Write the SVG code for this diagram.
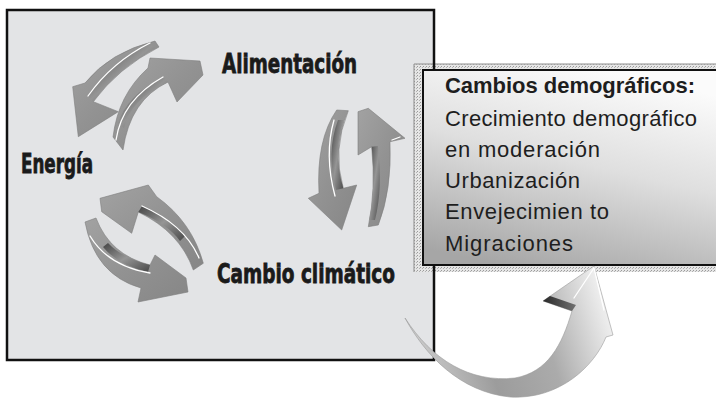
<svg xmlns="http://www.w3.org/2000/svg" width="716" height="402" viewBox="0 0 716 402">
<defs>
<style>
.lbl{font-family:"Liberation Sans Narrow","DejaVu Sans Condensed","Liberation Sans",sans-serif;font-weight:bold;font-size:27px;fill:#1a1a1a;stroke:#1a1a1a;stroke-width:0.8}
.txt{font-family:"Liberation Sans","Arial",sans-serif;font-size:22px;fill:#1e1e1e}
.bold{font-weight:bold}
.arrow{fill:url(#arrowGrad);stroke:#7e7e7e;stroke-width:0.6;stroke-linejoin:round}
.face{fill:url(#faceGrad)}
.hl{fill:none;stroke:#ffffff;stroke-width:1.3;stroke-linecap:round}
</style>
<linearGradient id="arrowGrad" x1="0" y1="0" x2="1" y2="1">
<stop offset="0" stop-color="#a2a2a2"/>
<stop offset="0.5" stop-color="#929292"/>
<stop offset="1" stop-color="#868686"/>
</linearGradient>
<linearGradient id="faceGrad" x1="0" y1="0" x2="1" y2="1">
<stop offset="0" stop-color="#444"/>
<stop offset="0.5" stop-color="#959595"/>
<stop offset="1" stop-color="#484848"/>
</linearGradient>
<linearGradient id="boxGrad" x1="0.6" y1="0" x2="0.25" y2="1">
<stop offset="0" stop-color="#fbfbfb"/>
<stop offset="0.45" stop-color="#dfdfdf"/>
<stop offset="1" stop-color="#a6a6a6"/>
</linearGradient>
<linearGradient id="bigGrad" gradientUnits="userSpaceOnUse" x1="405" y1="330" x2="600" y2="270">
<stop offset="0" stop-color="#cfcfcf"/>
<stop offset="0.35" stop-color="#9c9c9c"/>
<stop offset="0.65" stop-color="#ababab"/>
<stop offset="0.88" stop-color="#dcdcdc"/>
<stop offset="1" stop-color="#f4f4f4"/>
</linearGradient>
<linearGradient id="darkFace" x1="0" y1="0" x2="1" y2="0">
<stop offset="0" stop-color="#2a2a2a"/>
<stop offset="1" stop-color="#707070"/>
</linearGradient>
<pattern id="hatch" width="3" height="3" patternUnits="userSpaceOnUse">
<rect width="3" height="3" fill="#e6e6e6"/>
<rect width="1" height="1" fill="#9a9a9a"/>
<rect x="2" y="1" width="1" height="1" fill="#b2b2b2"/>
</pattern>
</defs>

<g id="main-panel">
<rect x="7" y="10" width="427" height="350" fill="#e3e4e6"/>
</g>

<g id="callout-shadow">
<rect x="414" y="64" width="310" height="208" fill="url(#hatch)"/>
<path d="M414,272 V64 H716" fill="none" stroke="#8c8c8c" stroke-width="1"/>
</g>

<g id="main-panel-border">
<rect x="7" y="10" width="427" height="350" fill="none" stroke="#111" stroke-width="2.5"/>
</g>

<g id="callout">
<rect x="423" y="70" width="300" height="195" fill="url(#boxGrad)" stroke="#111" stroke-width="2"/>
<text class="txt bold" x="445" y="93" textLength="250">Cambios demográficos:</text>
<text class="txt" x="445" y="126" textLength="252">Crecimiento demográfico</text>
<text class="txt" x="445" y="157" textLength="155">en moderación</text>
<text class="txt" x="445" y="188" textLength="135">Urbanización</text>
<text class="txt" x="445" y="219" textLength="164">Envejecimien to</text>
<text class="txt" x="445" y="251" textLength="128">Migraciones</text>
</g>

<g id="label-alimentacion"><text class="lbl" x="222" y="73" textLength="135" lengthAdjust="spacingAndGlyphs">Alimentación</text></g>
<g id="label-energia"><text class="lbl" x="21" y="173" textLength="72" lengthAdjust="spacingAndGlyphs">Energía</text></g>
<g id="label-cambio"><text class="lbl" x="217" y="283" textLength="178" lengthAdjust="spacingAndGlyphs">Cambio climático</text></g>

<g id="connectors">
<g id="arrow-a">
<path class="arrow" d="M155,41 Q110,52 85,83 L72.7,86.7 L78.3,136.7 L118.3,111.7 L93.3,101.7 Q118,68 159,47 Z"/>
<path class="face" d="M93.3,101.7 Q118,68 155,48 L150,43 Q112,62 88,96 Z"/>
<path class="hl" d="M88,96 Q112,62 150,43"/>
</g>
<g id="arrow-b">
<path class="arrow" d="M113,137 Q118,95 148,68 L150,58 L200,61 L203,75 L177,102 L168,82 Q130,100 123,150 Z"/>
<path class="face" d="M168,82 Q130,100 124,128 L118,124 Q126,96 163,77 Z"/>
<path class="hl" d="M116,140 Q122,100 163,77"/>
</g>
<g id="arrow-c">
<path class="arrow" d="M100,198.3 L148.3,185 L156.7,196.7 Q192,222 203.3,263.3 L193.3,270 Q180,232 138.3,212 L131.7,233.3 L101.7,211.7 Z"/>
<path class="face" d="M138.3,212 Q168,224 180,241 L185,236 Q172,218 142,206 Z"/>
<path class="hl" d="M142,206 Q185,225 199,258"/>
</g>
<g id="arrow-d">
<path class="arrow" d="M85,222 Q95,275 141,288 L138,302 L188,292 L186,278 L155,255 L150,265 Q110,255 96,218 Z"/>
<path class="face" d="M150,265 Q122,258 108,243 L103,247 Q118,265 148,272 Z"/>
<path class="hl" d="M90,236 Q108,266 150,273"/>
</g>
<g id="arrow-e">
<path class="arrow" d="M336.7,110 Q316,140 319,193.3 L308.3,198.3 L341.7,230 L356.7,185 L343.3,188.3 Q332,150 348.3,110.7 Z"/>
<path class="face" d="M343.3,188.3 Q332,150 344,120 L338,120 Q326,152 336,190 Z"/>
<path class="hl" d="M334,120 Q324,155 335,196"/>
</g>
<g id="arrow-f">
<path class="arrow" d="M368.3,226.7 Q376,190 371.7,146.7 L358,155 L358,111.7 L368.3,108.3 L405,138.3 L390,141.7 Q392,190 378.3,225 Z"/>
<path class="face" d="M371.7,146.7 Q376,190 369,220 L375,220 Q383,188 378,146 Z"/>
<path class="hl" d="M400,137 L392,140"/>
</g>
<g id="arrow-big">
<path d="M405,318 C425,355 460,392 510,397 C560,400 595,365 606,337 L613,335 L594,266 L543,301 L572,311 C562,345 548,372 515,378 C470,383 432,360 405,318 Z" fill="url(#bigGrad)" stroke="#9a9a9a" stroke-width="0.6" stroke-linejoin="round"/>
<path d="M543,301 L572,311 L576,305 L550,296 Z" fill="url(#darkFace)"/>
<path class="hl" d="M594,268 L574,298"/>
<path class="hl" d="M594,268 L604,310" stroke-width="0.8"/>
</g>
</g>
</svg>
